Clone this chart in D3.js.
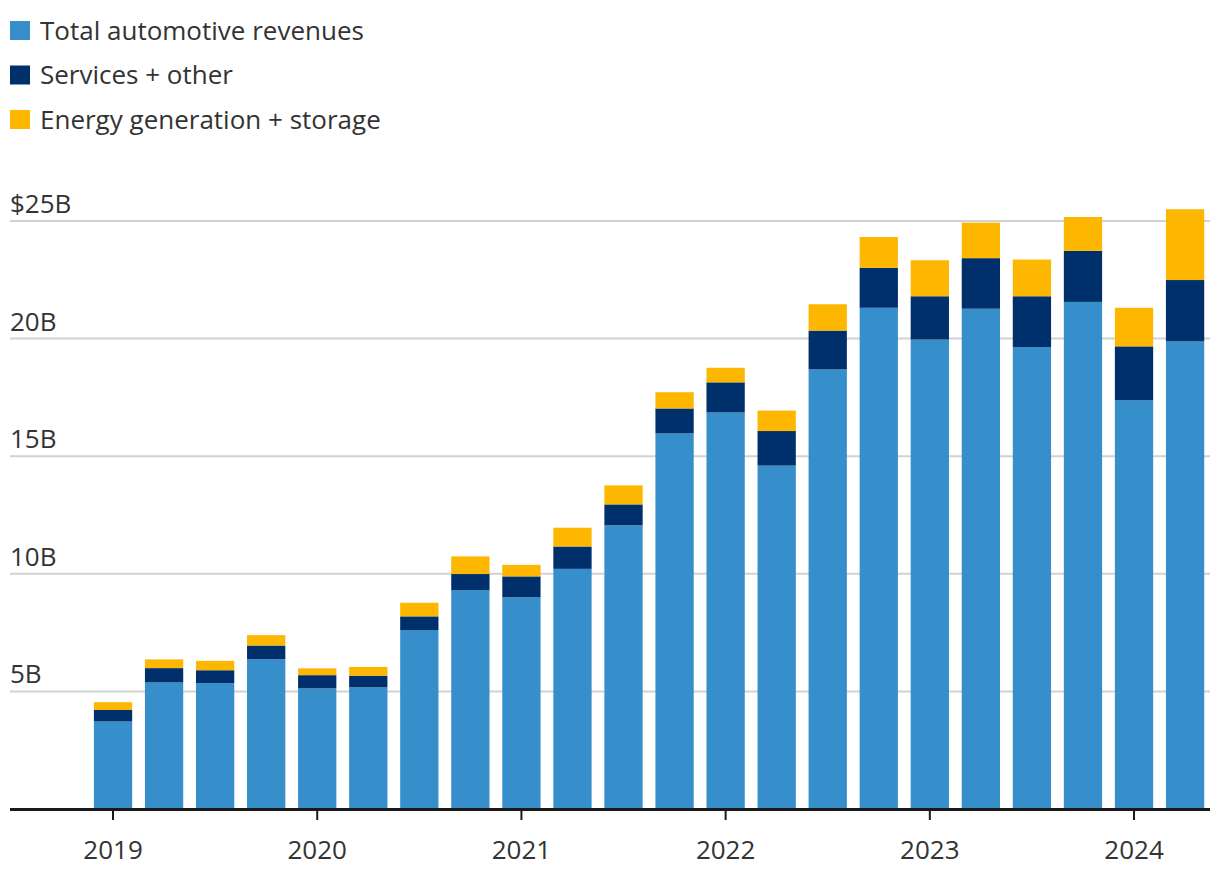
<!DOCTYPE html>
<html>
<head>
<meta charset="utf-8">
<script src="https://cdn.jsdelivr.net/npm/d3@7"></script>
<style>
  html, body { margin: 0; padding: 0; background: #fff; }
  svg { display: block; }
  text { font-family: "Open Sans", Lato, sans-serif; fill: #333; }
</style>
</head>
<body>
<svg id="chart" width="1220" height="884"></svg>
<script>
const quarters = ["Q1 2019","Q2 2019","Q3 2019","Q4 2019","Q1 2020","Q2 2020","Q3 2020","Q4 2020",
  "Q1 2021","Q2 2021","Q3 2021","Q4 2021","Q1 2022","Q2 2022","Q3 2022","Q4 2022",
  "Q1 2023","Q2 2023","Q3 2023","Q4 2023","Q1 2024","Q2 2024"];
const automotive = [3.72,5.38,5.35,6.37,5.13,5.18,7.61,9.31,9.00,10.21,12.06,15.97,16.86,14.60,18.69,21.31,19.96,21.27,19.63,21.56,17.38,19.88];
const services   = [0.49,0.61,0.55,0.58,0.56,0.49,0.58,0.68,0.89,0.95,0.89,1.06,1.28,1.47,1.65,1.70,1.84,2.15,2.17,2.17,2.29,2.61];
const energy     = [0.33,0.37,0.40,0.44,0.29,0.37,0.58,0.75,0.49,0.80,0.81,0.69,0.62,0.87,1.12,1.31,1.53,1.51,1.56,1.44,1.64,3.01];
const seriesNames = ["Total automotive revenues","Services + other","Energy generation + storage"];
const seriesColors = ["#368eca","#00306b","#fdb700"];
const yTicks = [5,10,15,20,25];
const yTickLabels = ["5B","10B","15B","20B","$25B"];
const xTickQuarters = ["Q1 2019","Q1 2020","Q1 2021","Q1 2022","Q1 2023","Q1 2024"];
const xTickLabels = ["2019","2020","2021","2022","2023","2024"];

const svg = d3.select("#chart");
const x = d3.scaleBand().domain(quarters).range([87.5, 1210.6]).paddingInner(0.25).paddingOuter(0.125);
const y = d3.scaleLinear().domain([0, 25]).range([809, 221]);

// grid
const grid = svg.append("g");
grid.selectAll("line").data(yTicks).join("line")
  .attr("x1", 10).attr("x2", 1210)
  .attr("y1", d => y(d)).attr("y2", d => y(d))
  .attr("stroke", "#d2d2d2").attr("stroke-width", 2);
grid.selectAll("text").data(yTicks).join("text")
  .attr("x", 10).attr("y", d => y(d) - 8)
  .attr("font-size", 26)
  .text((d, i) => yTickLabels[i]);

// stacked bars
const rows = quarters.map((q, i) => ({ q, a: automotive[i], s: services[i], e: energy[i] }));
const stack = d3.stack().keys(["a","s","e"])(rows);
svg.append("g").selectAll("g").data(stack).join("g")
  .attr("fill", (d, i) => seriesColors[i])
  .selectAll("rect").data(d => d).join("rect")
  .attr("x", d => x(d.data.q))
  .attr("width", x.bandwidth())
  .attr("y", d => y(d[1]))
  .attr("height", d => y(d[0]) - y(d[1]));

// x axis
const xa = svg.append("g");
xa.append("line").attr("x1", 10).attr("x2", 1210).attr("y1", 809.5).attr("y2", 809.5)
  .attr("stroke", "#1a1a1a").attr("stroke-width", 3);
xa.selectAll("line.tick").data(xTickQuarters).join("line").attr("class","tick")
  .attr("x1", d => x(d) + x.bandwidth()/2).attr("x2", d => x(d) + x.bandwidth()/2)
  .attr("y1", 810).attr("y2", 820)
  .attr("stroke", "#1a1a1a").attr("stroke-width", 2);
xa.selectAll("text").data(xTickQuarters).join("text")
  .attr("x", d => x(d) + x.bandwidth()/2).attr("y", 859)
  .attr("text-anchor", "middle").attr("font-size", 26)
  .text((d, i) => xTickLabels[i]);

// legend
const lg = svg.append("g").selectAll("g").data(seriesNames).join("g")
  .attr("transform", (d, i) => `translate(10, ${21 + i * 44.5})`);
lg.append("rect").attr("width", 20).attr("height", 19).attr("fill", (d, i) => seriesColors[i]);
lg.append("text").attr("x", 30).attr("y", 18.5).attr("font-size", 26).text(d => d);
</script>
</body>
</html>
